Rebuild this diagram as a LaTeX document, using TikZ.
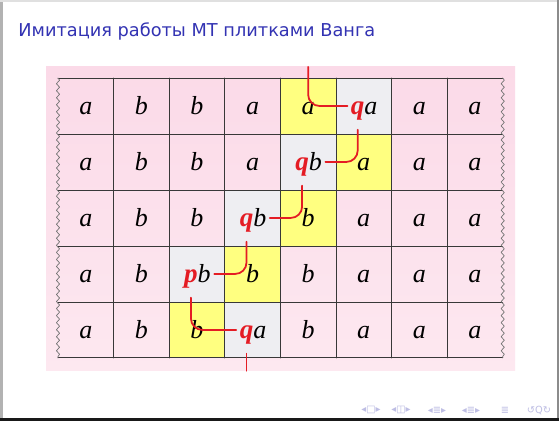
\documentclass[tikz,border=0pt]{standalone}
\usepackage{fontspec}
\setmainfont{Liberation Serif}
\newfontfamily\titlefont{DejaVu Sans}
\newfontfamily\navfont{DejaVu Sans}
\usepackage{xcolor}
\usetikzlibrary{positioning,decorations.pathmorphing}
\definecolor{slideblue}{RGB}{51,51,179}
\definecolor{tapepink}{RGB}{251,218,232}
\definecolor{tapepinklight}{RGB}{253,232,240}
\definecolor{headyellow}{RGB}{255,255,128}
\definecolor{headgray}{RGB}{238,238,242}
\definecolor{headred}{RGB}{228,28,36}
\definecolor{navgray}{RGB}{190,190,228}

\begin{document}
\begin{tikzpicture}[
  x=0.02cm,
  y=-0.02cm,
  line cap=round,
  line join=round,
  slide title/.style={font=\titlefont\fontsize{10.1}{12}\selectfont,text=slideblue,inner sep=0pt},
  tape sym/.style={font=\fontsize{14.8}{17}\selectfont\itshape,inner sep=0pt,outer sep=0pt,
    text height=16.6pt,text depth=6.4pt},
  head state/.style={tape sym,font=\fontsize{15.4}{17}\selectfont\bfseries\itshape,text=headred},
  grid line/.style={draw=black!78,line width=0.5pt},
  torn edge/.style={draw=black!55,line width=0.4pt,
    decorate,decoration={snake,amplitude=0.9pt,segment length=4pt}},
  head path/.style={draw=headred,line width=1pt,rounded corners=6.5pt,
    shorten <=2pt,shorten >=2pt},
  nav sym/.style={font=\navfont\fontsize{5.6}{6}\selectfont,text=navgray,inner sep=0pt}
]
  \path[use as bounding box] (0,0) rectangle (559,421);

  % slide frame
  \fill[white] (0,0) rectangle (559,421);
  \fill[black!30] (0,0) rectangle (3.3,421);
  \fill[black!12] (0,0) rectangle (559,2.5);
  \fill[black!45] (557.3,0) rectangle (559,421);
  \fill[black!90] (0,417.7) rectangle (559,421);

  \node[slide title,anchor=base west] (title) at (18,36.7)
    {Имитация работы МТ плитками Ванга};

  \shade[top color=tapepink,bottom color=tapepinklight] (46,67) rectangle (515,371);

  % tape rows, one cell = one unit
  \begin{scope}[shift={(58,78)},x=1.112cm,y=-1.12cm]
    \foreach \cX/\cY in {5/1,6/2,5/3,4/4,3/5}{
      \fill[headyellow] (\cX-1,\cY-1) rectangle (\cX,\cY);
    }
    \foreach \cX/\cY in {6/1,5/2,4/3,3/4,4/5}{
      \fill[headgray] (\cX-1,\cY-1) rectangle (\cX,\cY);
    }
    \foreach \gY in {0,...,5}{
      \draw[grid line] (0,\gY) -- (8,\gY);
    }
    \foreach \gX in {1,...,7}{
      \draw[grid line] (\gX,0) -- (\gX,5);
    }
    \draw[torn edge] (0,0) -- (0,5);
    \draw[torn edge] (8,0) -- (8,5);

    % x marks the cell that holds the head
    \foreach \row/\syms in {1/{a,b,b,a,a,x,a,a},2/{a,b,b,a,x,a,a,a},
        3/{a,b,b,x,b,a,a,a},4/{a,b,x,b,b,a,a,a},5/{a,b,b,x,b,a,a,a}}{
      \foreach \sym [count=\col] in \syms{
        \if\sym x\else
          \node[tape sym] (s-\row-\col) at (\col-0.5,\row-0.5) {\sym};
        \fi
      }
    }
    \foreach \hR/\hC/\hL/\hS in {1/6/q/a,2/5/q/b,3/4/q/b,4/3/p/b,5/4/q/a}{
      \node[tape sym] (s-\hR-\hC) at (\hC-0.37,\hR-0.5) {\hS};
      \node[head state,left=0pt of s-\hR-\hC] (h-\hR) {\hL};
    }

    \coordinate (tape top) at (4.5,-0.2);
    \coordinate (tape bottom) at (3.5,5.23);
  \end{scope}

  % path of the head
  \draw[head path,shorten <=0pt] (tape top) |- (h-1.west);
  \draw[head path] (h-1.south) |- (s-2-5.east);
  \draw[head path] (h-2.south) |- (s-3-4.east);
  \draw[head path] (h-3.south) |- (s-4-3.east);
  \draw[head path] (h-4.south) |- (h-5.west);
  \draw[head path,shorten >=0pt] (h-5.south) -- (h-5.south |- tape bottom);

  % navigation symbols
  \foreach \nX/\nT [count=\nI] in {371/{◂□▸},401/{◂◫▸},437/{◂≣▸},471/{◂≣▸},505/{≣},539/{↺Q↻}}{
    \node[nav sym] (nav-\nI) at (\nX,410) {\nT};
  }
\end{tikzpicture}
\end{document}
